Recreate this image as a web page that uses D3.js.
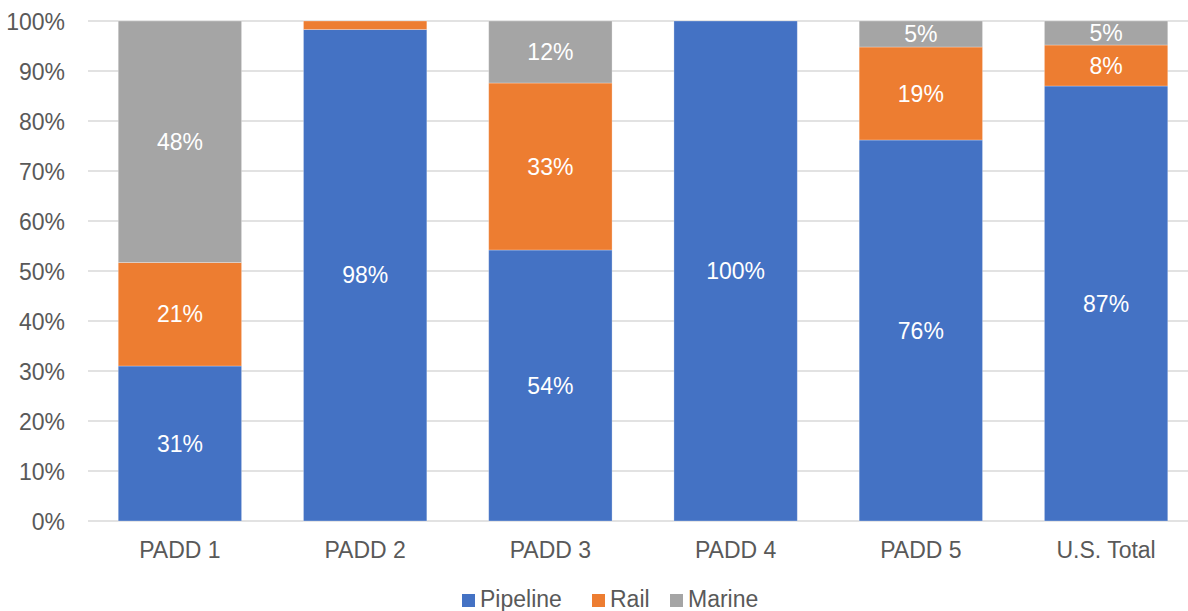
<!DOCTYPE html>
<html><head><meta charset="utf-8">
<script src="https://cdn.jsdelivr.net/npm/d3@7"></script>
<style>body{margin:0;background:#fff}svg{display:block}text{font-family:"Liberation Sans",Arial,sans-serif}</style>
</head><body><svg id="c" width="1188" height="611"></svg>
<script>
const categories = ["PADD 1","PADD 2","PADD 3","PADD 4","PADD 5","U.S. Total"];
const seriesNames = ["Pipeline","Rail","Marine"];
const pipeline = [31.0, 98.3, 54.2, 100, 76.2, 87.0];
const rail     = [20.7, 1.7, 33.4, 0, 18.6, 8.2];
const marine   = [48.3, 0, 12.4, 0, 5.2, 4.8];
const colors = ["#4472C4","#ED7D31","#A5A5A5"];
const yTicks = [0,10,20,30,40,50,60,70,80,90,100];

(function(){
const svg = d3.select("#c");
const pLeft = 87.3, pRight = 1198.7, pTop = 21, pBottom = 521;
const FS = 23;
const x = d3.scaleBand().domain(categories).range([pLeft, pRight]).paddingInner(0.334).paddingOuter(0.167);
const y = d3.scaleLinear().domain([0,100]).range([pBottom, pTop]);

svg.append("g").selectAll("line").data(yTicks).join("line")
  .attr("x1", 88).attr("x2", 1188)
  .attr("y1", d=>y(d)).attr("y2", d=>y(d))
  .attr("stroke","#D9D9D9").attr("stroke-width",1.3);

const yAxis = d3.axisLeft(y).tickValues(yTicks).tickFormat(d=>d+"%").tickSize(0).tickPadding(0);
const ga = svg.append("g").attr("transform",`translate(65,0)`).call(yAxis);
ga.select(".domain").remove();
ga.selectAll("text").attr("font-size",FS).attr("fill","#595959").attr("font-family",'"Liberation Sans",Arial,sans-serif').attr("dy","0.35em");

const xAxis = d3.axisBottom(x).tickSize(0).tickPadding(0);
const gx = svg.append("g").attr("transform",`translate(0,${pBottom+29})`).call(xAxis);
gx.select(".domain").remove();
gx.selectAll("text").attr("font-size",FS).attr("fill","#595959").attr("font-family",'"Liberation Sans",Arial,sans-serif').attr("dy","0.35em");

const rows = categories.map((c,i)=>({cat:c, Pipeline:pipeline[i], Rail:rail[i], Marine:marine[i]}));
const stacked = d3.stack().keys(seriesNames)(rows);
const gs = svg.append("g");
stacked.forEach((s,si)=>{
  gs.append("g").selectAll("rect").data(s.filter(d=>d[1]>d[0])).join("rect")
    .attr("x", d=>x(d.data.cat)).attr("width", x.bandwidth())
    .attr("y", d=>y(d[1])).attr("height", d=>Math.max(0,y(d[0])-y(d[1])))
    .attr("fill", colors[si]).attr("stroke","#fff").attr("stroke-opacity",0.35).attr("stroke-width",0.8);
});
stacked.forEach((s,si)=>{
  gs.append("g").selectAll("text").data(s.filter(d=>d[1]-d[0]>=3)).join("text")
    .attr("x", d=>x(d.data.cat)+x.bandwidth()/2)
    .attr("y", d=>(y(d[0])+y(d[1]))/2)
    .attr("dy","0.35em").attr("text-anchor","middle")
    .attr("font-size",FS).attr("fill","#fff")
    .text(d=>Math.round(d[1]-d[0])+"%");
});

const legX = [462, 592, 670];
const lg = svg.append("g");
seriesNames.forEach((n,i)=>{
  lg.append("rect").attr("x",legX[i]).attr("y",594).attr("width",13).attr("height",13).attr("fill",colors[i]);
  lg.append("text").attr("x",legX[i]+18).attr("y",599).attr("dy","0.35em").attr("font-size",FS).attr("fill","#595959").text(n);
});
})();
</script></body></html>
